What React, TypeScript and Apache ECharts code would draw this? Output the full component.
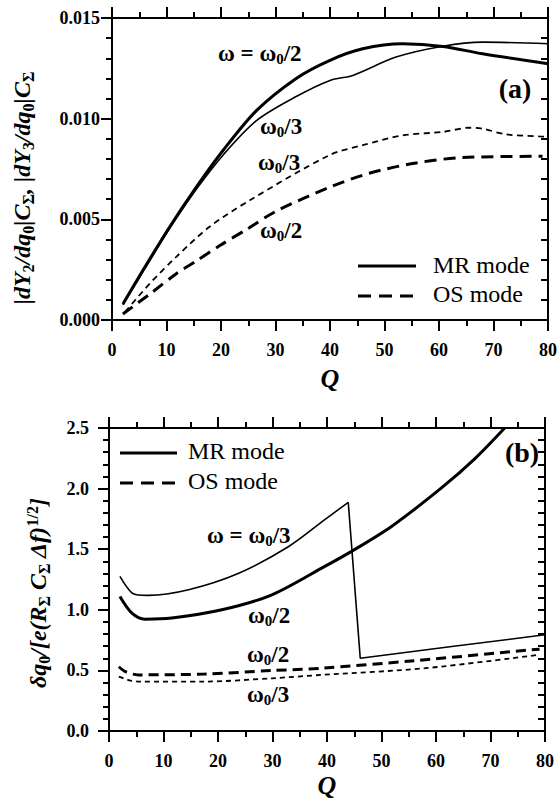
import React, { useEffect, useRef } from "react";
import * as echarts from "echarts";

// ---------- data ----------
// Panel (a): |dY/dq0| C_Sigma vs Q
const topMR2: [number, number][] = [[2, 0.0008], [5.7, 0.00248], [10.6, 0.00463], [15.5, 0.00661], [20.4, 0.00843], [26.5, 0.0104], [33.8, 0.012], [40, 0.0129], [46, 0.01347], [53.3, 0.01372], [60.7, 0.01359], [68, 0.01322], [80, 0.01273]];
const topMR3: [number, number][] = [[2, 0.00075], [5.7, 0.0024], [10.6, 0.00455], [15.5, 0.0065], [20.4, 0.0082], [26.5, 0.0099], [33.8, 0.0111], [40, 0.0119], [44.2, 0.01215], [52.1, 0.01306], [60.7, 0.0136], [68, 0.0138], [80, 0.01372]];
const topOS3: [number, number][] = [[2.4, 0.0004], [7, 0.00183], [11.8, 0.00314], [17.9, 0.00463], [25.3, 0.00595], [40, 0.0082], [46, 0.00868], [53.3, 0.00917], [60.7, 0.00934], [65.6, 0.00955], [68, 0.0095], [72.3, 0.00922], [78.4, 0.00912], [80, 0.0091]];
const topOS2: [number, number][] = [[2, 0.0003], [7, 0.0013], [11.8, 0.0023], [15.3, 0.0029], [19.8, 0.0037], [24.7, 0.0045], [30.1, 0.0054], [40, 0.0066], [47.2, 0.00729], [55.8, 0.0078], [64.3, 0.00807], [79, 0.00813]];

// Panel (b): delta q0 / [e (R C Δf)^1/2] vs Q
const botMR3: [number, number][] = [[2, 1.276], [4.2, 1.14], [6, 1.12], [7.2, 1.119], [14.6, 1.166], [23.7, 1.3], [32.9, 1.52], [39.6, 1.744], [43.9, 1.887], [46.1, 0.6], [62.9, 0.697], [80, 0.794]];
const botMR3PeakIndex = 8;
const botMR2: [number, number][] = [[2, 1.11], [4.2, 0.973], [6.6, 0.923], [11.5, 0.932], [20.7, 1.0], [29.9, 1.124], [39.6, 1.358], [44.5, 1.482], [51.9, 1.69], [61, 2.006], [67.2, 2.25], [72.6, 2.5]];
const botOS2: [number, number][] = [[1.8, 0.53], [3, 0.49], [5.4, 0.463], [17.6, 0.47], [29.9, 0.499], [39, 0.518], [56.1, 0.58], [77.6, 0.67], [79, 0.675]];
const botOS3: [number, number][] = [[1.8, 0.449], [4, 0.415], [5.4, 0.408], [17.6, 0.408], [29.9, 0.435], [39, 0.463], [58, 0.518], [78.8, 0.628]];

// axes
const qRange = [0, 80];
const qStep = 10;
const topRange = [0, 0.015];
const topStep = 0.005;
const botRange = [0, 2.5];
const botStep = 0.5;

const SERIF = "Liberation Serif";

const richBase = (size: number, weight: string, style: string) => ({
  n: { fontSize: size, fontFamily: SERIF, fontWeight: weight, fontStyle: style, lineHeight: size + 4, verticalAlign: "middle", fill: "#000" },
  s: { fontSize: Math.round(size * 0.65), fontFamily: SERIF, fontWeight: weight, fontStyle: "normal", lineHeight: Math.round(size * 0.6), verticalAlign: "bottom", fill: "#000" },
  p: { fontSize: Math.round(size * 0.65), fontFamily: SERIF, fontWeight: weight, fontStyle: "normal", lineHeight: Math.round(size * 0.6), verticalAlign: "top", fill: "#000" },
});

function label(x: number, y: number, text: string, size = 23): any {
  return { type: "text", x, y, style: { text, rich: richBase(size, "bold", "normal"), align: "left", verticalAlign: "middle" } };
}

function plainText(x: number, y: number, text: string, size: number, weight: string, fstyle: string, align = "left"): any {
  return { type: "text", x, y, style: { text, fill: "#000", fontSize: size, fontFamily: SERIF, fontWeight: weight, fontStyle: fstyle, align, verticalAlign: "middle" } };
}

function legendLine(x1: number, x2: number, y: number, dash: number[] | null): any {
  const style: any = { stroke: "#000", lineWidth: 3 };
  if (dash) style.lineDash = dash;
  return { type: "line", shape: { x1, y1: y, x2, y2: y }, style };
}

function xAxisDef(gridIndex: number, pos: string, showLabel: boolean): any {
  return {
    gridIndex,
    type: "value",
    position: pos,
    min: qRange[0],
    max: qRange[1],
    interval: qStep,
    axisLine: { show: true, onZero: false },
    axisTick: { show: true, length: 11, lineStyle: { color: "#000", width: 2 } },
    minorTick: { show: true, splitNumber: 2, length: 6, lineStyle: { color: "#000", width: 2 } },
    splitLine: { show: false },
    axisLabel: showLabel
      ? { show: true, margin: 21, color: "#000", fontSize: 18, fontWeight: "bold", fontFamily: SERIF }
      : { show: false },
  };
}

function yAxisDef(gridIndex: number, pos: string, range: number[], step: number, digits: number, margin: number): any {
  const left = pos === "left";
  return {
    gridIndex,
    type: "value",
    position: pos,
    min: range[0],
    max: range[1],
    interval: step,
    axisLine: { show: true, onZero: false },
    axisTick: { show: true, inside: !left, length: left ? 11 : 7, lineStyle: { color: "#000", width: 2 } },
    minorTick: { show: true, splitNumber: 5, length: left ? 6 : 7, lineStyle: { color: "#000", width: 2 } },
    splitLine: { show: false },
    axisLabel: left
      ? { show: true, margin, color: "#000", fontSize: 18, fontWeight: "bold", fontFamily: SERIF, formatter: (v: number) => v.toFixed(digits) }
      : { show: false },
  };
}

function line(name: string, data: [number, number][], width: number, dash: number[] | null, xi: number, yi: number, smooth: boolean | number = 0.3): any {
  return {
    type: "line",
    name,
    data,
    xAxisIndex: xi,
    yAxisIndex: yi,
    showSymbol: false,
    symbol: "none",
    smooth,
    lineStyle: { color: "#000", width, type: dash || "solid" },
  };
}

export default function App() {
  const ref = useRef<HTMLDivElement>(null);
  useEffect(() => {
    document.body.style.margin = "0";
    if (!ref.current) return;
    const chart = echarts.init(ref.current, null, { renderer: "svg" });
    const gridFrame = { show: true, borderColor: "#000", borderWidth: 2, backgroundColor: "transparent", z: 3 };
    const option: any = {
      animation: false,
      backgroundColor: "#fff",
      grid: [
        { ...gridFrame, left: 112, top: 18, width: 437, height: 302 },
        { ...gridFrame, left: 109, top: 428, width: 436, height: 303 },
      ],
      xAxis: [xAxisDef(0, "bottom", true), xAxisDef(0, "top", false), xAxisDef(1, "bottom", true), xAxisDef(1, "top", false)],
      yAxis: [
        yAxisDef(0, "left", topRange, topStep, 3, 12),
        yAxisDef(0, "right", topRange, topStep, 3, 12),
        yAxisDef(1, "left", botRange, botStep, 1, 20),
        yAxisDef(1, "right", botRange, botStep, 1, 20),
      ],
      series: [
        line("MR ω0/2 (a)", topMR2, 3, null, 0, 0),
        line("MR ω0/3 (a)", topMR3, 1.6, null, 0, 0),
        line("OS ω0/3 (a)", topOS3, 1.8, [6, 4.5], 0, 0),
        line("OS ω0/2 (a)", topOS2, 3, [12, 7], 0, 0),
        line("MR ω0/3 (b) rise", botMR3.slice(0, botMR3PeakIndex + 1), 1.6, null, 2, 2),
        line("MR ω0/3 (b) drop", botMR3.slice(botMR3PeakIndex), 1.6, null, 2, 2, false),
        line("MR ω0/2 (b)", botMR2, 3, null, 2, 2),
        line("OS ω0/2 (b)", botOS2, 3, [10, 6], 2, 2),
        line("OS ω0/3 (b)", botOS3, 1.8, [5, 4], 2, 2),
      ],
      graphic: [
        label(218, 53, "{n|ω = ω}{s|0}{n|/2}"),
        label(260, 126, "{n|ω}{s|0}{n|/3}"),
        label(258, 162, "{n|ω}{s|0}{n|/3}"),
        label(260, 230, "{n|ω}{s|0}{n|/2}"),
        plainText(515, 88, "(a)", 28, "bold", "normal", "center"),
        legendLine(358, 416, 266, null),
        legendLine(358, 416, 296, [13, 8]),
        plainText(433, 265, "MR mode", 24, "normal", "normal"),
        plainText(433, 294, "OS mode", 24, "normal", "normal"),
        label(207, 535, "{n|ω = ω}{s|0}{n|/3}"),
        label(248, 615, "{n|ω}{s|0}{n|/2}"),
        label(247, 654, "{n|ω}{s|0}{n|/2}"),
        label(247, 694, "{n|ω}{s|0}{n|/3}"),
        plainText(522, 452, "(b)", 28, "bold", "normal", "center"),
        legendLine(120, 177, 453, null),
        legendLine(120, 177, 483, [13, 8]),
        plainText(188, 451, "MR mode", 24, "normal", "normal"),
        plainText(188, 481, "OS mode", 24, "normal", "normal"),
        plainText(330, 378, "Q", 26, "bold", "italic", "center"),
        plainText(327, 785, "Q", 26, "bold", "italic", "center"),
        {
          type: "text",
          x: 22,
          y: 188,
          rotation: Math.PI / 2,
          style: {
            text: "{n||dY}{s|2}{n|/dq}{s|0}{n||C}{s|Σ}{n|, |dY}{s|3}{n|/dq}{s|0}{n||C}{s|Σ}",
            rich: richBase(24, "bold", "italic"),
            align: "center",
            verticalAlign: "middle",
          },
        },
        {
          type: "text",
          x: 38,
          y: 593,
          rotation: Math.PI / 2,
          style: {
            text: "{n|δq}{s|0}{n|/[e(R}{s|Σ}{n| C}{s|Σ}{n| Δf)}{p|1/2}{n|]}",
            rich: richBase(24, "bold", "italic"),
            align: "center",
            verticalAlign: "middle",
          },
        },
      ],
    };
    chart.setOption(option);
    return () => chart.dispose();
  }, []);
  return <div ref={ref} style={{ width: 560, height: 800 }} />;
}
